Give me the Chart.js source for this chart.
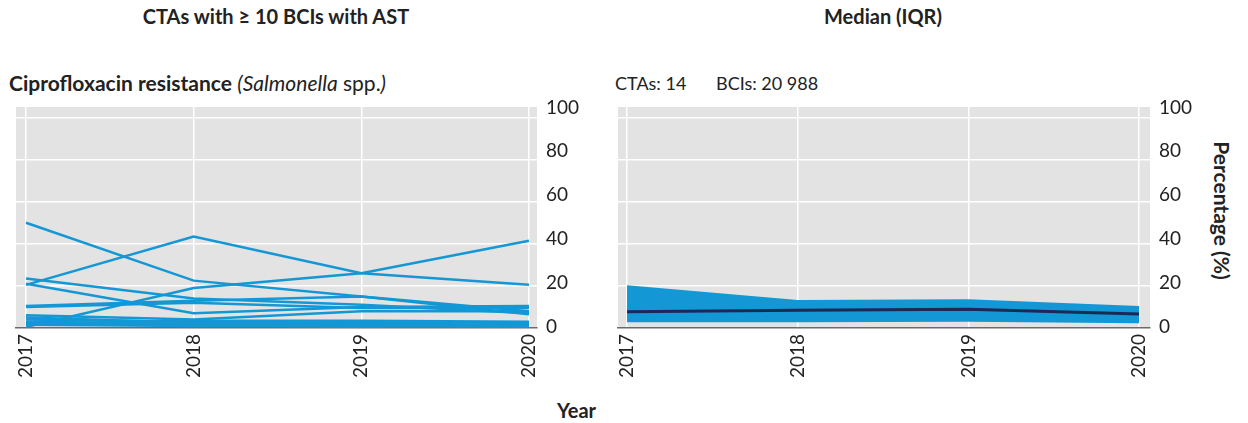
<!DOCTYPE html>
<html>
<head>
<meta charset="utf-8">
<script src="https://cdn.jsdelivr.net/npm/chart.js@4"></script>
<style>
body{margin:0;width:1248px;height:423px;background:#fff;font-family:Lato,sans-serif;color:#222;position:relative;overflow:hidden}
.t{position:absolute;white-space:nowrap;line-height:1}
.box{position:absolute}
</style>
</head>
<body>
<div class="t" style="left:0;width:552px;top:6px;text-align:center;font-weight:bold;font-size:20px">CTAs with ≥ 10 BCIs with AST</div>
<div class="t" style="left:620px;width:526px;top:6px;text-align:center;font-weight:bold;font-size:20px">Median (IQR)</div>
<div class="t" style="left:9px;top:72px;font-size:21px"><b>Ciprofloxacin resistance</b> <i>(Salmonella</i> spp.<i>)</i></div>
<div class="t" style="left:615px;top:74px;font-size:18px">CTAs: 14</div>
<div class="t" style="left:716px;top:74px;font-size:18px">BCIs: 20 988</div>
<div class="t" style="left:557px;top:400px;font-weight:bold;font-size:20px">Year</div>
<div class="t" style="left:1150px;top:200px;width:144px;text-align:center;font-weight:bold;font-size:21px;transform:rotate(90deg)">Percentage (%)</div>

<div class="box" style="left:0;top:100px"><canvas id="left" width="600" height="290"></canvas></div>
<div class="box" style="left:600px;top:100px"><canvas id="right" width="600" height="290"></canvas></div>

<script>
// data
var years = [2017, 2018, 2019, 2020];
var yTicks = [0, 20, 40, 60, 80, 100];

// one row per CTA (14 CTAs)
var cta1 = [50, 22.5, 15, 8];
var cta2 = [20.5, 43.5, 26, 20.5];
var cta3 = [0.5, 19, 26, 41.5];
var cta4 = [23.5, 14, 11, 7];
var cta5 = [21, 7, 10, 10.5];
var cta6 = [10.5, 13, 15, 6.5];
var cta7 = [10, 12, 9.5, 9.5];
var cta8 = [6, 4, 8, 8];
var cta9 = [4, 3, 3, 2.5];
var cta10 = [3, 2, 1.5, 1];
var cta11 = [2, 3.5, 3.5, 3];
var cta12 = [1.5, 1, 1, 0.5];
var cta13 = [5, 2.5, 2, 1.5];
var cta14 = [2.5, 1.5, 0.5, 2];
var ctas = [cta1, cta2, cta3, cta4, cta5, cta6, cta7, cta8, cta9, cta10, cta11, cta12, cta13, cta14];

var q1 = [2.7, 2.7, 3.0, 2.2];
var median = [7.7, 8.4, 8.9, 6.7];
var q3 = [20.3, 13.3, 13.7, 10.5];

var blue = '#1497d5';
var navy = '#1c2955';

function pts(vals) {
    return years.map(function(y, i) { return {x: y, y: vals[i]}; });
}

var plotBg = {
    id: 'plotBg',
    beforeDraw: function(chart) {
        var a = chart.chartArea, c = chart.ctx;
        c.save();
        c.fillStyle = '#e3e3e3';
        c.fillRect(a.left, a.top, a.right - a.left, a.bottom - a.top);
        c.restore();
    }
};

function tickList(vals) {
    return function(s) { s.ticks = vals.map(function(v) { return {value: v}; }); };
}

function scales(xmin, xmax, yWidth) {
    return {
        x: {
            type: 'linear', min: xmin, max: xmax,
            afterBuildTicks: tickList(years),
            afterFit: function(s) { s.height = 62; s.paddingLeft = 0; s.paddingRight = 0; },
            grid: {color: '#ffffff', lineWidth: 1.5, drawTicks: false},
            border: {display: true, color: '#6b6b6b', width: 1.5},
            ticks: {
                minRotation: 90, maxRotation: 90, padding: 6,
                color: '#222', font: {family: 'Lato', size: 19},
                callback: function(v) { return String(v); }
            }
        },
        // value axis: carries the data and the white grid
        y: {
            position: 'right', min: 0, max: 105,
            afterBuildTicks: tickList(yTicks),
            afterFit: function(s) { s.width = 0; s.paddingTop = 0; s.paddingBottom = 0; },
            grid: {
                color: function(c) { return c.tick && c.tick.value === 0 ? 'rgba(0,0,0,0)' : '#ffffff'; },
                lineWidth: 1.5, drawTicks: false
            },
            border: {display: false},
            ticks: {display: false}
        },
        // label axis: the printed tick labels sit a little off the grid in the original
        yl: {
            position: 'right', min: -0.46, max: 100.2,
            afterBuildTicks: tickList(yTicks),
            afterFit: function(s) { s.width = yWidth; s.paddingTop = 0; s.paddingBottom = 0; },
            grid: {display: false, drawTicks: false},
            border: {display: false},
            ticks: {padding: 9, color: '#222', font: {family: 'Lato', size: 19}}
        }
    };
}

var common = {
    responsive: false,
    animation: false,
    plugins: {legend: {display: false}, tooltip: {enabled: false}},
    elements: {point: {radius: 0}, line: {tension: 0}}
};

new Chart(document.getElementById('left'), {
    type: 'line',
    data: {
        datasets: ctas.map(function(v) {
            return {data: pts(v), borderColor: blue, borderWidth: 2.5, fill: false};
        })
    },
    options: Object.assign({}, common, {
        layout: {padding: {left: 16, top: 7, right: 0, bottom: 0}},
        scales: scales(2016.94, 2020.048, 63)
    }),
    plugins: [plotBg]
});

new Chart(document.getElementById('right'), {
    type: 'line',
    data: {
        datasets: [
            {data: pts(q1), borderWidth: 0, borderColor: blue, fill: false, order: 2},
            {data: pts(q3), borderWidth: 0, borderColor: blue, backgroundColor: blue, fill: '-1', order: 2},
            {data: pts(median), borderColor: navy, borderWidth: 3, fill: false, order: 1}
        ]
    },
    options: Object.assign({}, common, {
        layout: {padding: {left: 18, top: 7, right: 0, bottom: 0}},
        scales: scales(2016.947, 2020.064, 50)
    }),
    plugins: [plotBg]
});
</script>
</body>
</html>
